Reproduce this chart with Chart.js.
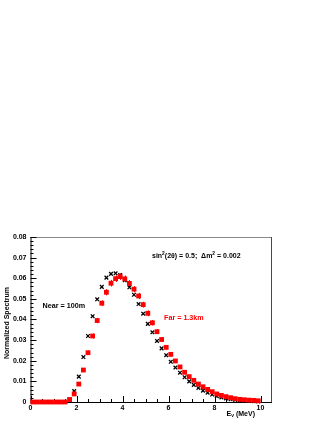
<!DOCTYPE html>
<html>
<head>
<meta charset="utf-8">
<script src="https://cdn.jsdelivr.net/npm/chart.js@4/dist/chart.umd.min.js"></script>
<style>
  body { margin: 0; background: #fff; }
  canvas { display: block; }
</style>
</head>
<body>
<canvas id="Spectrum" width="327" height="423"></canvas>
<script>
const Spectrum = document.getElementById('Spectrum').getContext('2d');

// bin centres (MeV)
const energy = [0.1, 0.3, 0.5, 0.7, 0.9, 1.1, 1.3, 1.5, 1.7, 1.9,
                2.1, 2.3, 2.5, 2.7, 2.9, 3.1, 3.3, 3.5, 3.7, 3.9,
                4.1, 4.3, 4.5, 4.7, 4.9, 5.1, 5.3, 5.5, 5.7, 5.9,
                6.1, 6.3, 6.5, 6.7, 6.9, 7.1, 7.3, 7.5, 7.7, 7.9,
                8.1, 8.3, 8.5, 8.7, 8.9, 9.1, 9.3, 9.5, 9.7, 9.9];

// Near = 100m
const near = [0, 0, 0, 0, 0, 0, 0, 0, 0.0012, 0.0053,
              0.0123, 0.0218, 0.0320, 0.0416, 0.0498, 0.0558, 0.0603, 0.0621, 0.0624, 0.0615,
              0.0590, 0.0556, 0.0520, 0.0475, 0.0428, 0.0379, 0.0338, 0.0296, 0.0260, 0.0227,
              0.0195, 0.0167, 0.0142, 0.0120, 0.0100, 0.0083, 0.0068, 0.0055, 0.0045, 0.0036,
              0.0028, 0.0022, 0.0017, 0.0013, 0.0010, 0.0008, 0.0006, 0.0005, 0.0004, 0.0003];

// Far = 1.3km
const far = [0, 0, 0, 0, 0, 0, 0, 0, 0.0012, 0.0039,
             0.0087, 0.0155, 0.0239, 0.0320, 0.0395, 0.0479, 0.0532, 0.0576, 0.0598, 0.0608,
             0.0597, 0.0575, 0.0547, 0.0514, 0.0472, 0.0430, 0.0384, 0.0341, 0.0303, 0.0265,
             0.0231, 0.0199, 0.0170, 0.0144, 0.0123, 0.0105, 0.0087, 0.0074, 0.0061, 0.0050,
             0.0039, 0.0032, 0.0026, 0.0021, 0.0016, 0.0013, 0.0011, 0.0009, 0.0008, 0.0006];

const farErr = [0, 0, 0, 0, 0, 0, 0, 0, 0.0002, 0.0004,
                0.0006, 0.0008, 0.0010, 0.0012, 0.0013, 0.0014, 0.0015, 0.0016, 0.0016, 0.0016,
                0.0016, 0.0016, 0.0015, 0.0015, 0.0014, 0.0014, 0.0013, 0.0012, 0.0011, 0.0011,
                0.0010, 0.0009, 0.0008, 0.0008, 0.0007, 0.0007, 0.0006, 0.0006, 0.0005, 0.0005,
                0.0004, 0.0004, 0.0003, 0.0003, 0.0003, 0.0002, 0.0002, 0.0002, 0.0002, 0.0002];

const xTicks = [0, 2, 4, 6, 8, 10];
const yTicks = [0, 0.01, 0.02, 0.03, 0.04, 0.05, 0.06, 0.07, 0.08];

const FONT = 'Liberation Sans, Arial, sans-serif';

// draws pieces of text, some raised or lowered, starting at x
function drawPieces(ctx, pieces, x, y, size) {
    pieces.forEach(p => {
        let s = p.sup || p.sub ? size * 0.7 : size;
        let dy = p.sup ? -size * 0.4 : (p.sub ? size * 0.3 : 0);
        ctx.font = 'bold ' + s + 'px ' + FONT;
        ctx.fillText(p.t, x, y + dy);
        x += ctx.measureText(p.t).width;
    });
    return x;
}
function piecesWidth(ctx, pieces, size) {
    let w = 0;
    pieces.forEach(p => {
        ctx.font = 'bold ' + (p.sup || p.sub ? size * 0.7 : size) + 'px ' + FONT;
        w += ctx.measureText(p.t).width;
    });
    return w;
}

const rootStyle = {
    id: 'rootStyle',
    beforeDatasetsDraw(chart) {
        const ctx = chart.ctx;
        const xs = chart.scales.x, ys = chart.scales.y;
        const a = chart.chartArea;
        ctx.save();
        // frame
        ctx.lineWidth = 1;
        ctx.strokeStyle = '#888888';
        ctx.beginPath(); ctx.moveTo(a.left, a.top + 0.5); ctx.lineTo(a.right, a.top + 0.5); ctx.stroke();
        ctx.strokeStyle = '#6b3a3a';
        ctx.beginPath(); ctx.moveTo(a.right - 0.5, a.top); ctx.lineTo(a.right - 0.5, a.bottom); ctx.stroke();
        ctx.strokeStyle = '#000';
        ctx.beginPath();
        ctx.moveTo(a.left + 0.5, a.top); ctx.lineTo(a.left + 0.5, a.bottom + 0.5);
        ctx.lineTo(a.right, a.bottom + 0.5);
        ctx.stroke();
        // ticks, inside the frame
        ctx.beginPath();
        for (let v = 0; v <= 0.0801; v += 0.002) {
            let py = Math.round(ys.getPixelForValue(v)) + 0.5;
            let major = Math.abs(v / 0.01 - Math.round(v / 0.01)) < 1e-6;
            ctx.moveTo(a.left, py); ctx.lineTo(a.left + (major ? 6 : 3), py);
        }
        for (let v = 0; v <= 10; v += 0.5) {
            let px = Math.round(xs.getPixelForValue(v)) + 0.5;
            let major = v % 2 === 0;
            ctx.moveTo(px, a.bottom); ctx.lineTo(px, a.bottom - (major ? 6 : 3));
        }
        ctx.stroke();
        // error bars of the far spectrum
        ctx.strokeStyle = '#ff0000';
        ctx.beginPath();
        energy.forEach((e, i) => {
            if (!farErr[i]) return;
            let px = Math.round(xs.getPixelForValue(e)) + 0.5;
            ctx.moveTo(px, ys.getPixelForValue(far[i] - farErr[i]));
            ctx.lineTo(px, ys.getPixelForValue(far[i] + farErr[i]));
        });
        ctx.stroke();
        ctx.restore();
    },
    afterDraw(chart) {
        const ctx = chart.ctx;
        ctx.save();
        ctx.textBaseline = 'middle';
        ctx.fillStyle = '#000';
        drawPieces(ctx, [{t: 'sin'}, {t: '2', sup: true}, {t: '(2θ) = 0.5;  Δm'}, {t: '2', sup: true}, {t: ' = 0.002'}], 152, 256, 7);
        drawPieces(ctx, [{t: 'Near = 100m'}], 42.5, 306, 7.2);
        ctx.fillStyle = '#ff0000';
        drawPieces(ctx, [{t: 'Far = 1.3km'}], 164, 318, 7.2);
        // axis titles
        ctx.fillStyle = '#000';
        const xt = [{t: 'E'}, {t: 'ν', sub: true}, {t: ' (MeV)'}];
        drawPieces(ctx, xt, 255 - piecesWidth(ctx, xt, 7), 414, 7);
        ctx.translate(7, 323);
        ctx.rotate(-Math.PI / 2);
        ctx.textAlign = 'center';
        ctx.font = 'bold 7px ' + FONT;
        ctx.fillText('Normalized Spectrum', 0, 0);
        ctx.restore();
    }
};

var myChart = new Chart(Spectrum, {
    type: 'scatter',
    data: {
        datasets: [{
            label: 'Far = 1.3km',
            data: energy.map((e, i) => ({x: e, y: far[i]})),
            pointStyle: 'rect',
            pointRadius: 3.4,
            backgroundColor: '#ff0000',
            borderColor: '#ff0000',
            borderWidth: 0,
            clip: false,
            order: 0
        }, {
            label: 'Near = 100m',
            data: energy.map((e, i) => ({x: e, y: near[i]})),
            pointStyle: 'crossRot',
            pointRadius: 2.6,
            borderColor: '#000',
            borderWidth: 1.3,
            clip: false,
            order: 1
        }]
    },
    options: {
        responsive: false,
        animation: false,
        events: [],
        layout: { padding: { top: 237, right: 55, left: 0, bottom: 0 } },
        plugins: { legend: { display: false }, tooltip: { enabled: false } },
        scales: {
            x: {
                type: 'linear', min: 0, max: 10.5,
                grid: { display: false, drawTicks: false },
                border: { display: false },
                afterBuildTicks: s => { s.ticks = xTicks.map(v => ({value: v})); },
                afterFit: s => { s.height = 21; },
                ticks: { font: { family: FONT, size: 7, weight: 'bold' }, color: '#000', padding: 2, maxRotation: 0, autoSkip: false }
            },
            y: {
                min: 0, max: 0.08,
                grid: { display: false, drawTicks: false },
                border: { display: false },
                afterBuildTicks: s => { s.ticks = yTicks.map(v => ({value: v})); },
                afterFit: s => { s.width = 30.5; },
                ticks: {
                    font: { family: FONT, size: 7, weight: 'bold' }, color: '#000', padding: 4, autoSkip: false,
                    callback: v => v === 0 ? '0' : v.toFixed(2)
                }
            }
        }
    },
    plugins: [rootStyle]
});
</script>
</body>
</html>
